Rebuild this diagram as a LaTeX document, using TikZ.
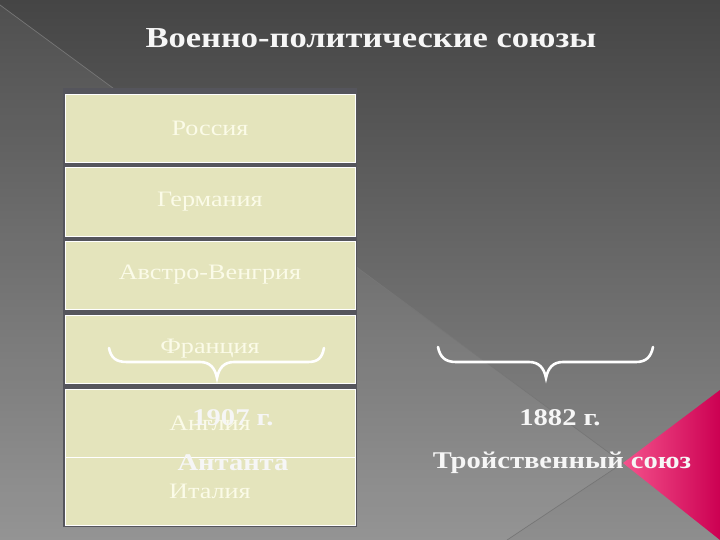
\documentclass[tikz,border=0pt]{standalone}
\usepackage{fontspec}
\setmainfont{Liberation Serif}[FakeStretch=1.19]
\definecolor{bgtop}{HTML}{454545}
\definecolor{bgbot}{HTML}{8E8E8E}
\definecolor{linecol}{HTML}{767676}
\definecolor{panel}{HTML}{55555C}
\definecolor{boxfill}{HTML}{E4E4BC}
\definecolor{boxtxt}{HTML}{FBFBE8}
\definecolor{pinkL}{HTML}{F4528C}
\definecolor{pinkR}{HTML}{CC0052}
\definecolor{wtxt}{HTML}{F6F6F6}
\begin{document}
\begin{tikzpicture}[x=1pt,y=-1pt,
  box/.style={draw=white, line width=1pt, fill=boxfill, minimum width=290pt, minimum height=68pt, inner sep=0pt, text=boxtxt, font=\fontsize{22}{26}\selectfont},
  boldtxt/.style={text=wtxt, inner sep=0pt, font=\bfseries\fontsize{24}{28}\selectfont},
  brace/.style={draw=white, line width=2.6pt, line cap=round}]
\useasboundingbox (0,0) rectangle (720,540);
% background
\shade[top color=bgtop, bottom color=bgbot] (0,0) rectangle (720,540);
\fill[white, opacity=0.06] (0,5) -- (623,463) -- (507,540) -- (0,540) -- cycle;
\draw[linecol, line width=0.7pt] (0,5) -- (623,463);
\draw[linecol, line width=0.7pt] (507,540) -- (623,463);
\shade[left color=pinkL, right color=pinkR] (623,463) -- (720,390) -- (720,540) -- cycle;
% title
\node[text=wtxt, font=\bfseries\fontsize{29}{34}\selectfont] (title) at (371,38) {Военно-политические союзы};
% panel and boxes
\fill[panel] (63,88) rectangle (357,527);
\node[box] (ru) at (210,128.5) {Россия};
\node[box] (de) at (210,202) {Германия};
\node[box] (ah) at (210,275) {Австро-Венгрия};
\node[box] (fr) at (210,349) {Франция};
\node[box] (en) at (210,423) {Англия};
\node[box] (it) at (210,491.5) {Италия};
% braces
\draw[brace] (109,348) .. controls (111,358) and (116,362) .. (127,362) -- (200,362) .. controls (210,362) and (215,368) .. (217,378) .. controls (219,368) and (224,362) .. (234,362) -- (308,362) .. controls (318,362) and (322,358) .. (324,348);
\draw[brace] (438,347) .. controls (440,357) and (445,362) .. (456,362) -- (529,362) .. controls (539,362) and (544,368) .. (546,378) .. controls (548,368) and (553,362) .. (563,362) -- (636,362) .. controls (646,362) and (651,357) .. (653,347);
% labels
\node[boldtxt] (y1907) at (233,418) {1907 г.};
\node[boldtxt] (ent) at (233,463) {Антанта};
\node[boldtxt] (y1882) at (560,418) {1882 г.};
\node[boldtxt] (tri) at (562,463) {Тройственный союз};
\end{tikzpicture}
\end{document}
